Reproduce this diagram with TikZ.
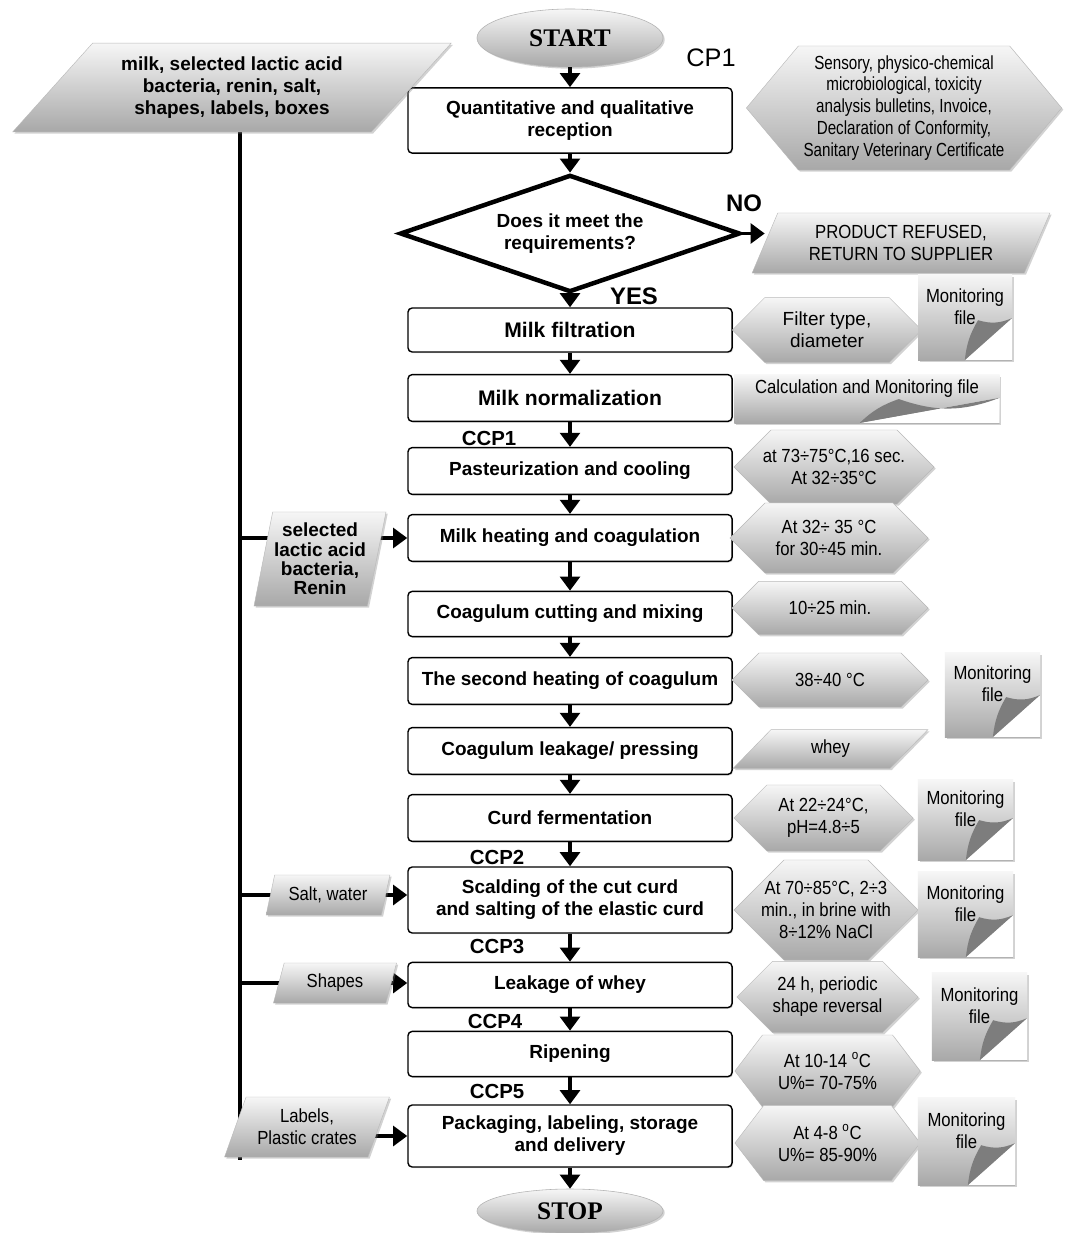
\documentclass[tikz,border=0pt]{standalone}
\usepackage{fontspec}
\setmainfont{Liberation Sans}
\newfontfamily\termfamily{Liberation Serif}
\newfontfamily\narrowfamily[FakeStretch=0.88]{Liberation Sans}
\newfontfamily\tightfamily[FakeStretch=0.80]{Liberation Sans}
\usepackage{tikz}
\usetikzlibrary{shapes.geometric, shapes.symbols, arrows.meta, positioning, shadows}
\pgfdeclarelayer{background}
\pgfsetlayers{background,main}
\definecolor{sheettop}{RGB}{246,246,246}
\definecolor{sheetbottom}{RGB}{168,168,168}
\definecolor{foldgray}{RGB}{125,125,125}
\newcommand{\stepfont}{\fontsize{13.5}{15.6}\selectfont\bfseries}
\newcommand{\bigstepfont}{\fontsize{15}{17}\selectfont\bfseries}
\newcommand{\notefont}{\narrowfamily\fontsize{13.5}{15.6}\selectfont}
\newcommand{\plainnotefont}{\fontsize{13.5}{15.6}\selectfont}
\newcommand{\ccpfont}{\fontsize{14.5}{16}\selectfont\bfseries}

\begin{document}
\begin{tikzpicture}[x=0.025cm, y=-0.025cm,
    soft/.style={drop shadow={shadow xshift=1.2pt, shadow yshift=-1.2pt, opacity=0.35}},
    proc/.style={rectangle, draw, line width=1pt, rounded corners=3pt, fill=white,
                 minimum width=8.1cm, minimum height=1.17cm, align=center, font=\stepfont,
                 drop shadow={shadow xshift=0.8pt, shadow yshift=-0.8pt, opacity=0.3}},
    term/.style={ellipse, top color=sheettop, bottom color=sheetbottom, draw=gray!60,
                 minimum width=4.65cm, minimum height=1.45cm, soft,
                 font=\termfamily\fontsize{18}{20}\selectfont\bfseries},
    test/.style={diamond, draw, line width=3.2pt, fill=white, shape aspect=2.9,
                 minimum width=8.5cm, minimum height=2.93cm, inner sep=0pt,
                 align=center, font=\stepfont},
    hexa/.style={signal, signal to=west and east, signal pointer angle=#1,
                 top color=sheettop, bottom color=sheetbottom, draw=gray!55, line width=0.3pt,
                 inner xsep=-20pt, inner ysep=1pt, align=center, font=\notefont, soft},
    hexa/.default=90,
    para/.style={trapezium, trapezium stretches=true, trapezium left angle=#1, trapezium right angle={180-#1},
                 top color=sheettop, bottom color=sheetbottom, draw=gray!55, line width=0.3pt,
                 inner sep=1pt, align=center, font=\notefont, soft},
    sheet/.style 2 args={rectangle, top color=sheettop, bottom color=sheetbottom,
                 inner sep=1pt, align=center, font=\notefont, soft,
                 path picture={
                   \fill[white] (path picture bounding box.south east) -- ++(-#1,0pt) -- ++(#1,#2) -- cycle;
                   \fill[foldgray] ([xshift=-#1]path picture bounding box.south east)
                     to[bend left=12] ([xshift=-0.72*#1, yshift=0.95*#2]path picture bounding box.south east)
                     to[bend right=20] ([yshift=#2]path picture bounding box.south east) -- cycle;}},
    flow/.style={line width=2.8pt, -{Triangle[width=14pt, length=10pt]}},
    feed/.style={line width=3.4pt},
    trunk/.style={line width=2.8pt},
    ccp/.style={font=\ccpfont, inner sep=0pt}
]
    \useasboundingbox (0,0) rectangle (1064,1233);

    % main flow
    \node[term] (start) at (570,38) {START};
    \node[font=\fontsize{18}{20}\selectfont, inner sep=0pt] (cp1) at (711,58) {CP1};
    \node[proc, minimum height=1.63cm] (recv) at (570,120.5) {Quantitative and qualitative\\reception};
    \node[test] (check) at (570,233.5) {Does it meet the\\requirements?};
    \node[font=\fontsize{17}{19}\selectfont\bfseries, inner sep=0pt] (no) at (744,203) {NO};
    \node[font=\fontsize{17}{19}\selectfont\bfseries, inner sep=0pt] (yes) at (634,296) {YES};
    \node[proc, font=\bigstepfont, minimum height=1.1cm] (filt) at (570,330) {Milk filtration};
    \node[proc, font=\bigstepfont] (norm) at (570,398) {Milk normalization};
    \node[ccp] (ccp1) at (489,438) {CCP1};
    \node[proc] (past) at (570,471) {Pasteurization and cooling};
    \node[proc] (heat) at (570,538) {Milk heating and coagulation};
    \node[proc, minimum height=1.13cm] (cut) at (570,614) {Coagulum cutting and mixing};
    \node[proc] (heat2) at (570,681) {The second heating of coagulum};
    \node[proc] (press) at (570,751) {Coagulum leakage/ pressing};
    \node[proc] (ferm) at (570,818) {Curd fermentation};
    \node[ccp] (ccp2) at (497,857) {CCP2};
    \node[proc, minimum height=1.65cm] (scald) at (570,900) {Scalding of the cut curd\\and salting of the elastic curd};
    \node[ccp] (ccp3) at (497,946) {CCP3};
    \node[proc, minimum height=1.13cm] (drain) at (570,985) {Leakage of whey};
    \node[ccp] (ccp4) at (495,1021) {CCP4};
    \node[proc, minimum height=1.13cm] (ripe) at (570,1054) {Ripening};
    \node[ccp] (ccp5) at (497,1091) {CCP5};
    \node[proc, minimum height=1.55cm] (pack) at (570,1136) {Packaging, labeling, storage\\and delivery};
    \node[term, minimum height=1.1cm] (stop) at (570,1211) {STOP};

    % inputs on the left
    \node[para=45, minimum width=11cm, minimum height=2.22cm, font=\stepfont] (supply) at (232,87.5)
        {milk, selected lactic acid\\bacteria, renin, salt,\\shapes, labels, boxes};
    \node[para=76, minimum width=3.25cm, minimum height=2.35cm,
          font=\fontsize{13.5}{13.8}\selectfont\bfseries] (culture) at (320,559)
        {selected\\lactic acid\\bacteria,\\Renin};
    \node[para=71, minimum width=3.1cm, minimum height=1cm] (salt) at (328,895) {Salt, water};
    \node[para=73, minimum width=3.08cm, minimum height=1cm] (forms) at (335,983) {Shapes};
    \node[para=65, minimum width=4.15cm, minimum height=1.5cm] (crates) at (307,1127) {Labels,\\Plastic crates};

    % controls on the right
    \node[hexa=100, minimum width=7.88cm, minimum height=3.1cm, inner xsep=1pt,
          font=\tightfamily\fontsize{13.5}{15.6}\selectfont] (docs) at (904,108)
        {Sensory, physico-chemical\\microbiological, toxicity\\analysis bulletins, Invoice,\\Declaration of Conformity,\\Sanitary Veterinary Certificate};
    \node[para=63, minimum width=7.45cm, minimum height=1.5cm] (refuse) at (901,243)
        {PRODUCT REFUSED,\\RETURN TO SUPPLIER};
    \node[hexa, minimum width=4.73cm, minimum height=1.62cm, font=\plainnotefont] (filthex) at (827,330)
        {Filter type,\\diameter};
    \node[sheet={1.18cm}{1.05cm}, minimum width=2.35cm, minimum height=2.13cm] (mon1) at (965,317.5)
        {Monitoring\\file\\~};
    \node[sheet={3.5cm}{0.63cm}, minimum width=6.63cm, minimum height=1.2cm] (calc) at (867,399)
        {Calculation and Monitoring file\\[2pt]};
    \node[hexa, minimum width=5cm, minimum height=1.85cm] (pasthex) at (834,467)
        {at 73÷75°C,16 sec.\\At 32÷35°C};
    \node[hexa, minimum width=4.95cm, minimum height=1.75cm] (heathex) at (829,538)
        {At 32÷ 35 °C\\for 30÷45 min.};
    \node[hexa, minimum width=4.9cm, minimum height=1.33cm] (cuthex) at (830,608) {10÷25 min.};
    \node[hexa, minimum width=4.9cm, minimum height=1.35cm] (heat2hex) at (830,680) {38÷40 °C};
    \node[sheet={1.18cm}{1.05cm}, minimum width=2.38cm, minimum height=2.1cm] (mon2) at (992.5,695)
        {Monitoring\\file\\~};
    \node[para=57, minimum width=4.88cm, minimum height=0.97cm] (whey) at (830.5,749) {whey};
    \node[hexa, minimum width=4.48cm, minimum height=1.65cm] (fermhex) at (823.5,818)
        {At 22÷24°C,\\pH=4.8÷5};
    \node[sheet={1.18cm}{1.05cm}, minimum width=2.38cm, minimum height=2cm] (mon3) at (965.5,820)
        {Monitoring\\file\\~};
    \node[hexa, minimum width=4.6cm, minimum height=2.5cm] (scaldhex) at (826,910)
        {At 70÷85°C, 2÷3\\min., in brine with\\8÷12\% NaCl};
    \node[sheet={1.18cm}{1.05cm}, minimum width=2.38cm, minimum height=2.13cm] (mon4) at (965.5,914.5)
        {Monitoring\\file\\~};
    \node[hexa, minimum width=4.53cm, minimum height=1.78cm] (drainhex) at (827.5,997)
        {24 h, periodic\\shape reversal};
    \node[sheet={1.18cm}{1.05cm}, minimum width=2.38cm, minimum height=2.18cm] (mon5) at (979.5,1016.5)
        {Monitoring\\file\\~};
    \node[hexa=105, minimum width=4.63cm, minimum height=1.8cm] (ripehex) at (827.5,1071)
        {At 10-14 \textsuperscript{o}C\\U\%= 70-75\%};
    \node[hexa=105, minimum width=4.63cm, minimum height=1.88cm] (packhex) at (827.5,1143)
        {At 4-8 \textsuperscript{o}C\\U\%= 85-90\%};
    \node[sheet={1.18cm}{1.05cm}, minimum width=2.43cm, minimum height=2.18cm] (mon6) at (966.5,1141.5)
        {Monitoring\\file\\~};

    % arrows of the main flow
    \draw[flow] (start) -- (recv);
    \draw[flow] (recv) -- (check);
    \draw[flow] (check) -- (filt);
    \draw[flow] (check.east) -- (check.east -| refuse.west);
    \draw[flow] (filt) -- (norm);
    \draw[flow] (norm) -- (past);
    \draw[flow] (past) -- (heat);
    \draw[flow] (heat) -- (cut);
    \draw[flow] (cut) -- (heat2);
    \draw[flow] (heat2) -- (press);
    \draw[flow] (press) -- (ferm);
    \draw[flow] (ferm) -- (scald);
    \draw[flow] (scald) -- (drain);
    \draw[flow] (drain) -- (ripe);
    \draw[flow] (ripe) -- (pack);
    \draw[flow] (pack) -- (stop);

    % supply line, behind the inputs
    \coordinate (trunktop) at (240,132);
    \coordinate (trunkend) at (240,1160);
    \begin{pgfonlayer}{background}
        \fill[white] (0,0) rectangle (1064,1233);
        \draw[trunk] (trunktop) -- (trunkend);
        \draw[feed] (heat.west -| trunktop) -- (heat.west -| culture.center);
        \draw[flow, line width=3.2pt] (heat.west -| culture.center) -- (heat.west);
        \draw[feed] (salt.center -| trunktop) -- (salt.center);
        \draw[flow, line width=3.2pt] (salt.center) -- (salt.center -| scald.west);
        \draw[feed] (forms.center -| trunktop) -- (forms.center);
        \draw[flow, line width=3.2pt] (forms.center) -- (forms.center -| drain.west);
        \draw[flow] (pack.west -| crates.center) -- (pack.west);
    \end{pgfonlayer}
\end{tikzpicture}
\end{document}
